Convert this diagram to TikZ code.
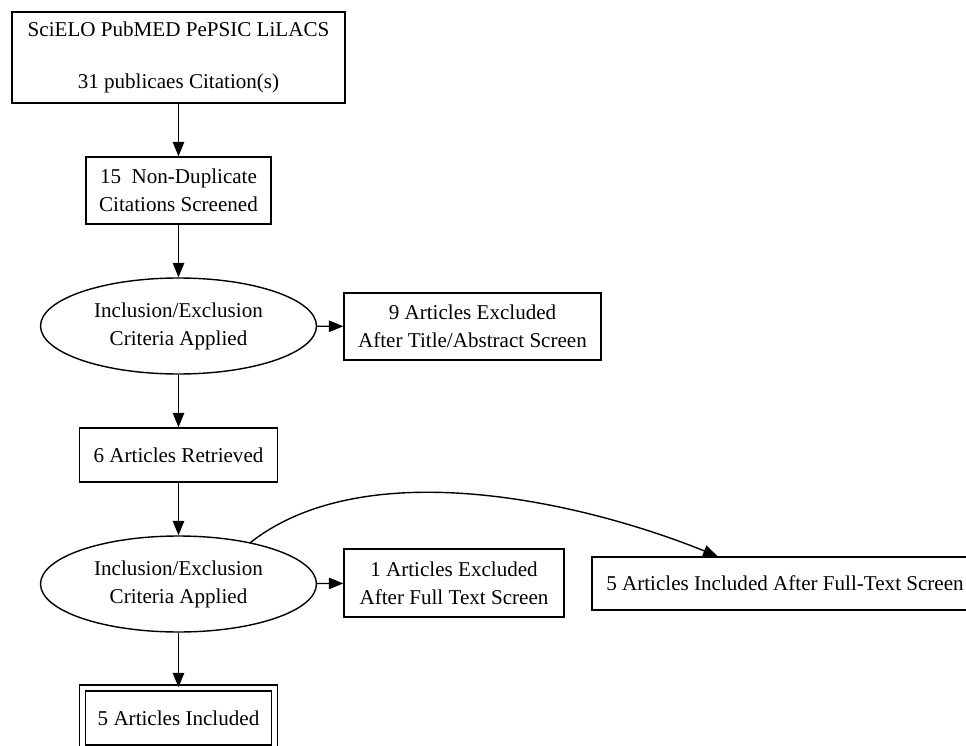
\documentclass[tikz,border=0pt]{standalone}
\usepackage{fontspec}
\setmainfont{Liberation Serif}
\usetikzlibrary{positioning, arrows.meta, calc, shapes.geometric}

\begin{document}
\begin{tikzpicture}[
    x=0.02cm, y=-0.02cm,
    % Flow chart styles
    stepbox/.style={
        rectangle,
        draw=black,
        line width=0.8pt,
        fill=white,
        inner sep=0pt,
        align=center,
        font=\fontsize{12}{16}\selectfont
    },
    critbox/.style={
        ellipse,
        draw=black,
        line width=0.8pt,
        inner sep=0pt,
        minimum width=5.52cm,
        minimum height=1.92cm,
        align=center,
        font=\fontsize{12}{16}\selectfont
    },
    finalbox/.style={
        stepbox,
        double,
        double distance=0.09cm
    },
    arrow/.style={
        -{Triangle[length=0.29cm, width=0.23cm]},
        line width=0.8pt,
        black
    }
]
\useasboundingbox (0,0) rectangle (966,746);

% === Search and screening ===
\node[stepbox, minimum width=6.66cm, minimum height=1.82cm] (sources) at (178.5,57.5)
    {SciELO PubMED PePSIC LiLACS\\[13.5pt]31 publicaes Citation(s)};
\node[stepbox, minimum width=3.7cm, minimum height=1.34cm] (nondup) at (178.5,190.5)
    {15\ \ Non-Duplicate\\Citations Screened};
\node[critbox] (criteria1) at (178.5,326) {Inclusion/Exclusion\\Criteria Applied};
\node[stepbox, minimum width=5.14cm, minimum height=1.34cm] (excluded1) at (472.5,326.5)
    {9 Articles Excluded\\After Title/Abstract Screen};

% === Full text ===
\node[stepbox, minimum width=3.96cm, minimum height=1.08cm] (retrieved) at (178.5,455)
    {6 Articles Retrieved};
\node[critbox] (criteria2) at (178.5,584) {Inclusion/Exclusion\\Criteria Applied};
\node[stepbox, minimum width=4.4cm, minimum height=1.36cm] (excluded2) at (454,583)
    {1 Articles Excluded\\After Full Text Screen};
\node[stepbox, minimum width=7.72cm, minimum height=1.06cm] (fulltext) at (785,583.5)
    {5 Articles Included After Full-Text Screen};
\node[finalbox, minimum width=3.84cm, minimum height=1.2cm] (included) at (178.5,718)
    {5 Articles Included};

% === Arrows ===
\draw[arrow] (sources) -- (nondup);
\draw[arrow] (nondup) -- (criteria1);
\draw[arrow] (criteria1) -- (excluded1);
\draw[arrow] (criteria1) -- (retrieved);
\draw[arrow] (retrieved) -- (criteria2);
\draw[arrow] (criteria2) -- (excluded2);
\draw[arrow] (criteria2) -- (included);
\draw[arrow] (criteria2.30) to[out=38, in=158, looseness=0.8] (fulltext.158);

\end{tikzpicture}
\end{document}
